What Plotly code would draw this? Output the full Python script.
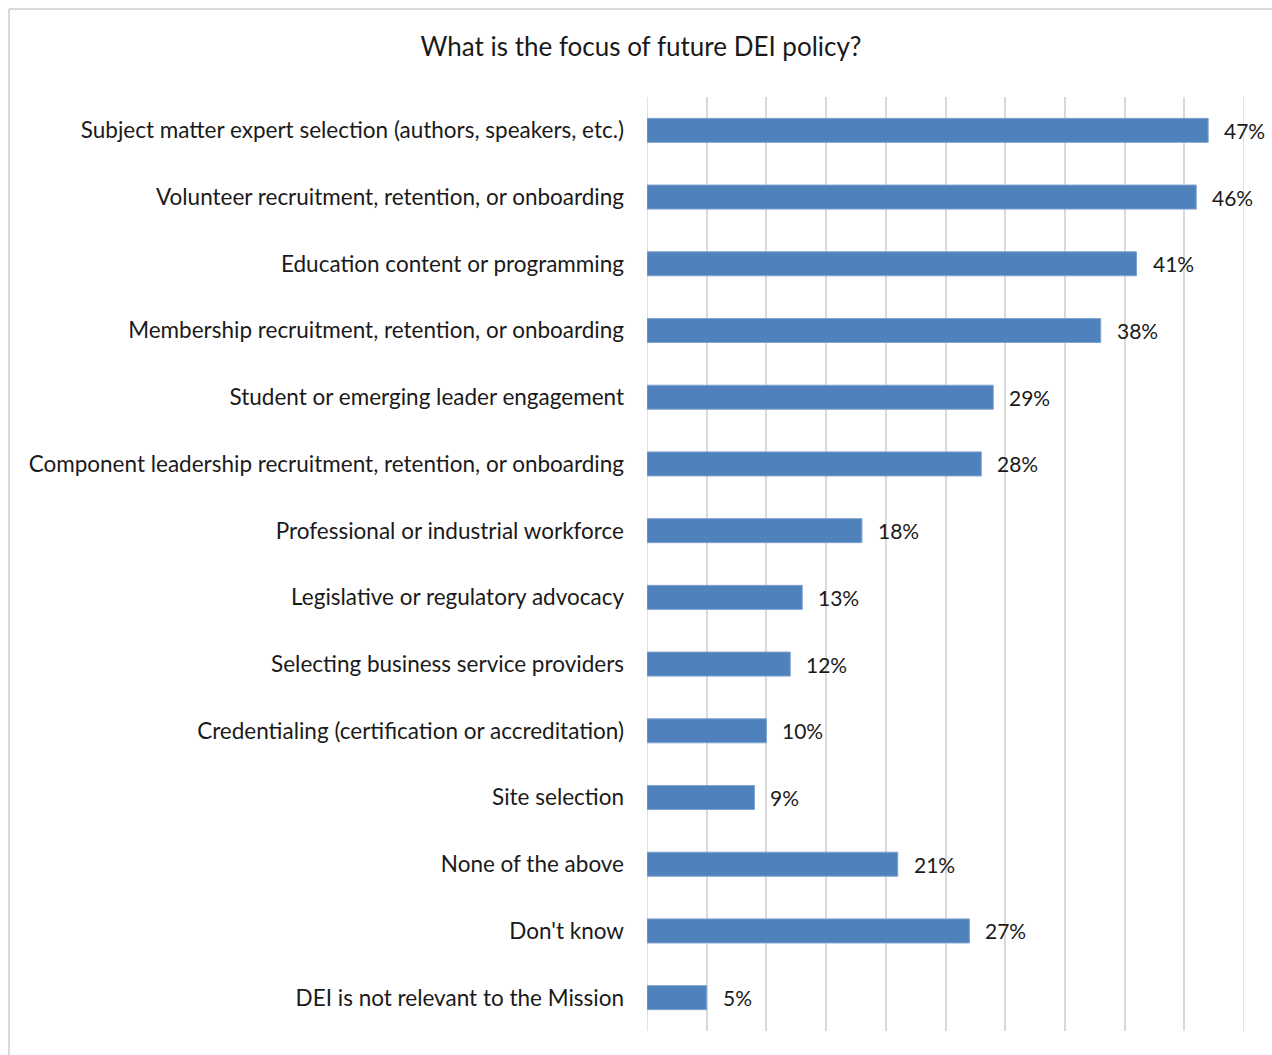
import plotly.graph_objects as go

# Survey answers, top to bottom
categories = [
    "Subject matter expert selection (authors, speakers, etc.)",
    "Volunteer recruitment, retention, or onboarding",
    "Education content or programming",
    "Membership recruitment, retention, or onboarding",
    "Student or emerging leader engagement",
    "Component leadership recruitment, retention, or onboarding",
    "Professional or industrial workforce",
    "Legislative or regulatory advocacy",
    "Selecting business service providers",
    "Credentialing (certification or accreditation)",
    "Site selection",
    "None of the above",
    "Don't know",
    "DEI is not relevant to the Mission",
]
shares = [47, 46, 41, 38, 29, 28, 18, 13, 12, 10, 9, 21, 27, 5]

FONT = "Lato"
BAR = "#4F81BD"
GRID = "#D9D9D9"

fig = go.Figure(
    go.Bar(
        x=shares,
        y=categories,
        orientation="h",
        marker=dict(color=BAR, line=dict(color="#7FA3D0", width=1)),
        width=0.36,
        hoverinfo="skip",
    )
)

# value labels just past the end of each bar
for cat, v in zip(categories, shares):
    fig.add_annotation(
        x=v, y=cat, text=f"{v}%", showarrow=False,
        xanchor="left", xshift=14, yshift=0,
        font=dict(family=FONT, size=21, color="#1a1a1a"),
    )

W, H = 1272, 1055
L, R, T, B = 647, W - 1244, 97, H - 1031
pw, ph = W - L - R, H - T - B

# light frame around the chart (left and top edges visible)
x0 = (9 - L) / pw
y1 = (H - B - 9) / ph
fig.add_shape(type="line", xref="paper", yref="paper", x0=x0, x1=x0, y0=-0.2, y1=y1,
              line=dict(color=GRID, width=2))
fig.add_shape(type="line", xref="paper", yref="paper", x0=x0, x1=1.2, y0=y1, y1=y1,
              line=dict(color=GRID, width=2))

fig.update_layout(
    width=W, height=H,
    margin=dict(l=L, r=R, t=T, b=B, pad=0),
    paper_bgcolor="white", plot_bgcolor="white",
    showlegend=False,
    title=dict(
        text="What is the focus of future DEI policy?",
        x=641 / W, xanchor="center", xref="container",
        y=1 - 47 / H, yanchor="middle", yref="container",
        font=dict(family=FONT, size=26, color="#1a1a1a"),
    ),
    xaxis=dict(
        range=[0, 50], dtick=5, showticklabels=False,
        showgrid=True, gridcolor=GRID, gridwidth=1.5,
        zeroline=False, showline=False, fixedrange=True,
    ),
    yaxis=dict(
        categoryorder="array", categoryarray=categories[::-1],
        autorange=False, range=[-0.5, len(categories) - 0.5],
        showgrid=False, zeroline=False, showline=False,
        ticks="", ticklabelstandoff=22,
        tickfont=dict(family=FONT, size=22.5, color="#1a1a1a"),
    ),
)

# gridlines at both ends of the value range
for xv in (0, 50):
    fig.add_shape(type="line", xref="x", yref="paper", x0=xv, x1=xv, y0=0, y1=1,
                  line=dict(color=GRID, width=1.5), layer="below")

fig.write_html("out.html")
